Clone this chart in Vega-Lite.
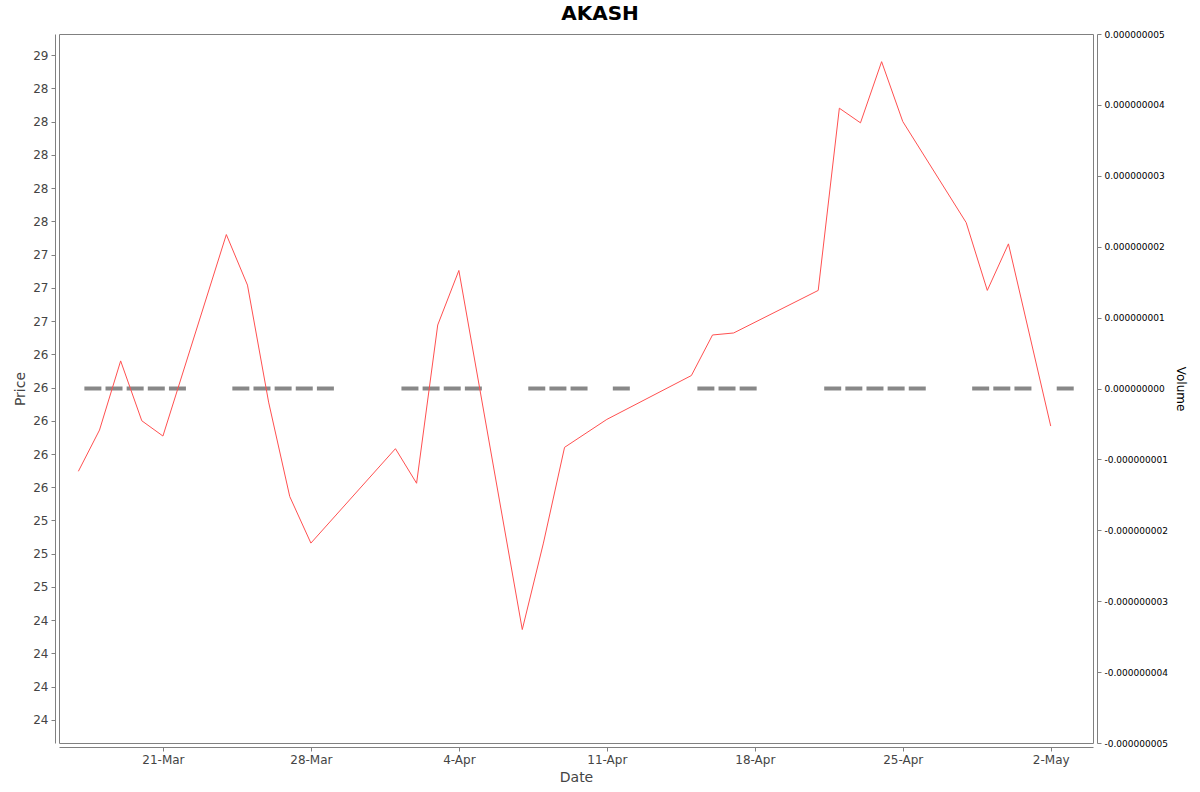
{
  "$schema": "https://vega.github.io/schema/vega-lite/v6.json",
  "autosize": {"type": "none"},
  "width": 1034,
  "height": 709,
  "padding": {"left": 59, "top": 34, "right": 107, "bottom": 49},
  "background": "white",
  "config": {
    "font": "DejaVu Sans",
    "view": {"stroke": "#808080", "strokeWidth": 1},
    "axis": {"grid": false, "domainColor": "#808080", "tickColor": "#808080", "labelFont": "DejaVu Sans", "titleFont": "DejaVu Sans", "titleFontWeight": "normal"}
  },
  "title": {"text": "AKASH", "fontSize": 20, "fontWeight": "bold", "font": "DejaVu Sans", "anchor": "middle", "dx": 24, "offset": 6, "color": "#000000"},
  "data": {"values": [
    {"date": "2025-03-17", "price": 25.62, "volume": 0},
    {"date": "2025-03-18", "price": 25.93, "volume": 0},
    {"date": "2025-03-19", "price": 26.45, "volume": 0},
    {"date": "2025-03-20", "price": 26.00, "volume": 0},
    {"date": "2025-03-21", "price": 25.885, "volume": 0},
    {"date": "2025-03-24", "price": 27.40, "volume": 0},
    {"date": "2025-03-25", "price": 27.02, "volume": 0},
    {"date": "2025-03-26", "price": 26.14, "volume": 0},
    {"date": "2025-03-27", "price": 25.43, "volume": 0},
    {"date": "2025-03-28", "price": 25.08, "volume": 0},
    {"date": "2025-04-01", "price": 25.79, "volume": 0},
    {"date": "2025-04-02", "price": 25.53, "volume": 0},
    {"date": "2025-04-03", "price": 26.72, "volume": 0},
    {"date": "2025-04-04", "price": 27.13, "volume": 0},
    {"date": "2025-04-07", "price": 24.43, "volume": 0},
    {"date": "2025-04-08", "price": 25.08, "volume": 0},
    {"date": "2025-04-09", "price": 25.80, "volume": 0},
    {"date": "2025-04-11", "price": 26.01, "volume": 0},
    {"date": "2025-04-15", "price": 26.34, "volume": 0},
    {"date": "2025-04-16", "price": 26.645, "volume": 0},
    {"date": "2025-04-17", "price": 26.66, "volume": 0},
    {"date": "2025-04-21", "price": 26.98, "volume": 0},
    {"date": "2025-04-22", "price": 28.35, "volume": 0},
    {"date": "2025-04-23", "price": 28.24, "volume": 0},
    {"date": "2025-04-24", "price": 28.70, "volume": 0},
    {"date": "2025-04-25", "price": 28.25, "volume": 0},
    {"date": "2025-04-28", "price": 27.49, "volume": 0},
    {"date": "2025-04-29", "price": 26.98, "volume": 0},
    {"date": "2025-04-30", "price": 27.33, "volume": 0},
    {"date": "2025-05-02", "price": 25.96, "volume": 0}
  ]},
  "encoding": {
    "x": {
      "field": "date", "type": "temporal",
      "scale": {"type": "utc", "domain": [{"year": 2025, "month": 3, "date": 16, "hours": 2, "utc": true}, {"year": 2025, "month": 5, "date": 4, "hours": 0, "utc": true}]},
      "axis": {
        "title": "Date", "titleFontSize": 14, "titleColor": "#444444", "titlePadding": 5,
        "labelFontSize": 12, "labelColor": "#444444", "labelPadding": 3, "tickSize": 4, "offset": 4,
        "values": [
          {"year": 2025, "month": 3, "date": 21, "utc": true},
          {"year": 2025, "month": 3, "date": 28, "utc": true},
          {"year": 2025, "month": 4, "date": 4, "utc": true},
          {"year": 2025, "month": 4, "date": 11, "utc": true},
          {"year": 2025, "month": 4, "date": 18, "utc": true},
          {"year": 2025, "month": 4, "date": 25, "utc": true},
          {"year": 2025, "month": 5, "date": 2, "utc": true}
        ],
        "labelExpr": "utcFormat(datum.value, '%-d-%b')"
      }
    }
  },
  "layer": [
    {
      "mark": {"type": "tick", "orient": "horizontal", "color": "#888888", "size": 17, "thickness": 4, "xOffset": 14.5, "opacity": 1},
      "encoding": {
        "y": {
          "field": "volume", "type": "quantitative",
          "scale": {"domain": [-5e-9, 5e-9], "nice": false, "zero": false},
          "axis": {
            "orient": "right", "title": "Volume", "titleAngle": 90, "titleFontSize": 12, "titleColor": "#000000", "titlePadding": 6,
            "labelFontSize": 9, "labelColor": "#000000", "labelPadding": 3, "tickSize": 4, "offset": 4,
            "values": [-5e-9, -4e-9, -3e-9, -2e-9, -1e-9, 0, 1e-9, 2e-9, 3e-9, 4e-9, 5e-9],
            "labelExpr": "replace(format(datum.value, '.9f'), '−', '-')"
          }
        }
      }
    },
    {
      "mark": {"type": "line", "color": "#ff5050", "strokeWidth": 1},
      "encoding": {
        "y": {
          "field": "price", "type": "quantitative",
          "scale": {"domain": [23.577, 28.908], "nice": false, "zero": false},
          "axis": {
            "orient": "left", "title": "Price", "titleFontSize": 14, "titleColor": "#444444", "titlePadding": 5,
            "labelFontSize": 12, "labelColor": "#444444", "labelPadding": 3, "tickSize": 4, "offset": 4,
            "values": [23.75, 24, 24.25, 24.5, 24.75, 25, 25.25, 25.5, 25.75, 26, 26.25, 26.5, 26.75, 27, 27.25, 27.5, 27.75, 28, 28.25, 28.5, 28.75],
            "labelExpr": "(datum.value % 1 == 0.5) ? ((floor(datum.value) % 2 == 0) ? format(floor(datum.value), 'd') : format(ceil(datum.value), 'd')) : format(round(datum.value), 'd')"
          }
        }
      }
    }
  ],
  "resolve": {"scale": {"y": "independent"}}
}
